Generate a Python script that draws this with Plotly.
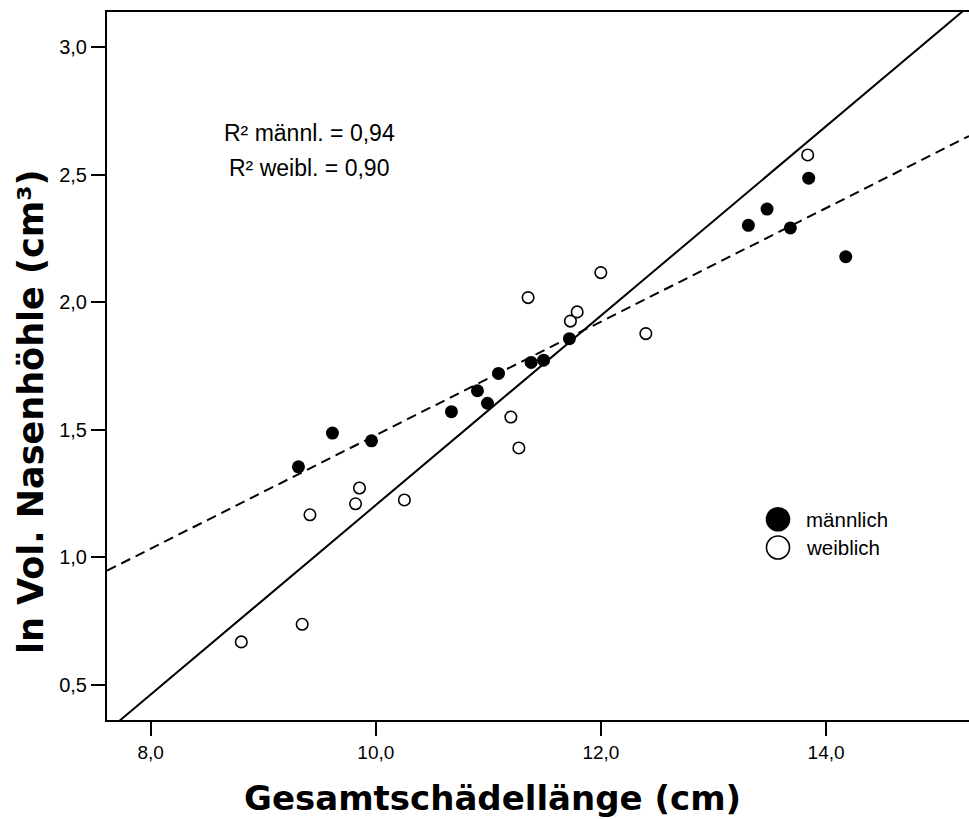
import plotly.graph_objects as go

# ---- data ----
male_x = [9.313, 9.615, 9.962, 10.672, 10.903, 10.992, 11.090, 11.380, 11.491, 11.720,
          13.310, 13.476, 13.683, 13.846, 14.175]
male_y = [1.355, 1.487, 1.457, 1.571, 1.653, 1.604, 1.721, 1.764, 1.773, 1.857,
          2.301, 2.365, 2.291, 2.486, 2.178]

female_x = [8.805, 9.346, 9.415, 9.820, 9.855, 10.254, 11.200, 11.271, 11.353, 11.729,
            11.789, 11.999, 12.399, 13.837]
female_y = [0.669, 0.738, 1.167, 1.210, 1.272, 1.225, 1.550, 1.429, 2.018, 1.926,
            1.962, 2.116, 1.877, 2.577]

# regression lines: [male (dashed), female (solid)]
fit_names = ["männlich", "weiblich"]
fit_slope = [0.2224, 0.3711]
fit_intercept = [-0.745, -2.506]
fit_dash = ["10px,6px", "solid"]

x_range = [7.612, 15.27]
y_range = [0.363, 3.137]
x_ticks = [8.0, 10.0, 12.0, 14.0]
y_ticks = [0.5, 1.0, 1.5, 2.0, 2.5, 3.0]

r2_labels = ["R² männl. = 0,94", "R² weibl. = 0,90"]
legend_labels = ["männlich", "weiblich"]

FONT = "Arial, Liberation Sans, sans-serif"
TITLE_FONT = "DejaVu Sans, Arial, sans-serif"

fig = go.Figure()

for name, s, b, d in zip(fit_names, fit_slope, fit_intercept, fit_dash):
    xs = [x_range[0], x_range[1]]
    ys = [b + s * v for v in xs]
    fig.add_trace(go.Scatter(x=xs, y=ys, mode="lines",
                             line=dict(color="black", width=2, dash=d),
                             showlegend=False, hoverinfo="skip"))

fig.add_trace(go.Scatter(x=female_x, y=female_y, mode="markers", name="weiblich",
                         marker=dict(size=11.5, color="white",
                                     line=dict(color="black", width=1.6)),
                         showlegend=False))
fig.add_trace(go.Scatter(x=male_x, y=male_y, mode="markers", name="männlich",
                         marker=dict(size=13, color="black", line=dict(width=0)),
                         showlegend=False))

L, R, T, B = 107, 0, 12, 99
W, H = 969, 819
pw, ph = W - L - R, H - T - B

def px_x(p):
    return (p - L) / pw

def px_y(p):
    return (H - B - p) / ph

# legend: circles + text
leg_y = [519.3, 547.5]
leg_fill = ["black", "white"]
shapes = []
annotations = []
for lab, yy, fc in zip(legend_labels, leg_y, leg_fill):
    shapes.append(dict(type="circle", xref="paper", yref="paper",
                       xsizemode="pixel", ysizemode="pixel",
                       xanchor=px_x(778), yanchor=px_y(yy),
                       x0=-11.5, x1=11.5, y0=-11.5, y1=11.5,
                       fillcolor=fc, line=dict(color="black", width=1.6)))
    annotations.append(dict(xref="paper", yref="paper", x=px_x(804), y=px_y(yy),
                            xanchor="left", yanchor="middle", showarrow=False,
                            text=lab, font=dict(family=FONT, size=20.5, color="black")))

for lab, yy in zip(r2_labels, [133, 168.3]):
    annotations.append(dict(xref="paper", yref="paper", x=px_x(309), y=px_y(yy),
                            xanchor="center", yanchor="middle", showarrow=False,
                            text=lab, font=dict(family=FONT, size=23, color="black")))

# axis titles
annotations.append(dict(xref="paper", yref="paper", x=px_x(492), y=px_y(798),
                        xanchor="center", yanchor="middle", showarrow=False,
                        text="<b>Gesamtschädellänge (cm)</b>",
                        font=dict(family=TITLE_FONT, size=34, color="black")))
annotations.append(dict(xref="paper", yref="paper", x=px_x(31), y=px_y(412),
                        xanchor="center", yanchor="middle", showarrow=False,
                        textangle=-90,
                        text="<b>ln Vol. Nasenhöhle (cm³)</b>",
                        font=dict(family=TITLE_FONT, size=35, color="black")))

fig.update_layout(
    width=W, height=H,
    margin=dict(l=L, r=R, t=T, b=B, pad=0),
    paper_bgcolor="white", plot_bgcolor="white",
    separators=",.",
    showlegend=False,
    shapes=shapes,
    annotations=annotations,
    font=dict(family=FONT, color="black"),
    xaxis=dict(range=x_range, tickvals=x_ticks, tickformat=".1f",
               showgrid=False, zeroline=False,
               showline=True, linecolor="black", linewidth=2, mirror=True,
               ticks="outside", ticklen=14, tickwidth=2, tickcolor="black",
               tickfont=dict(family=FONT, size=19, color="black")),
    yaxis=dict(range=y_range, tickvals=y_ticks, tickformat=".1f",
               showgrid=False, zeroline=False,
               showline=True, linecolor="black", linewidth=2, mirror=False,
               ticks="outside", ticklen=14, tickwidth=2, tickcolor="black",
               tickfont=dict(family=FONT, size=20, color="black")),
)

fig.write_html("out.html")
